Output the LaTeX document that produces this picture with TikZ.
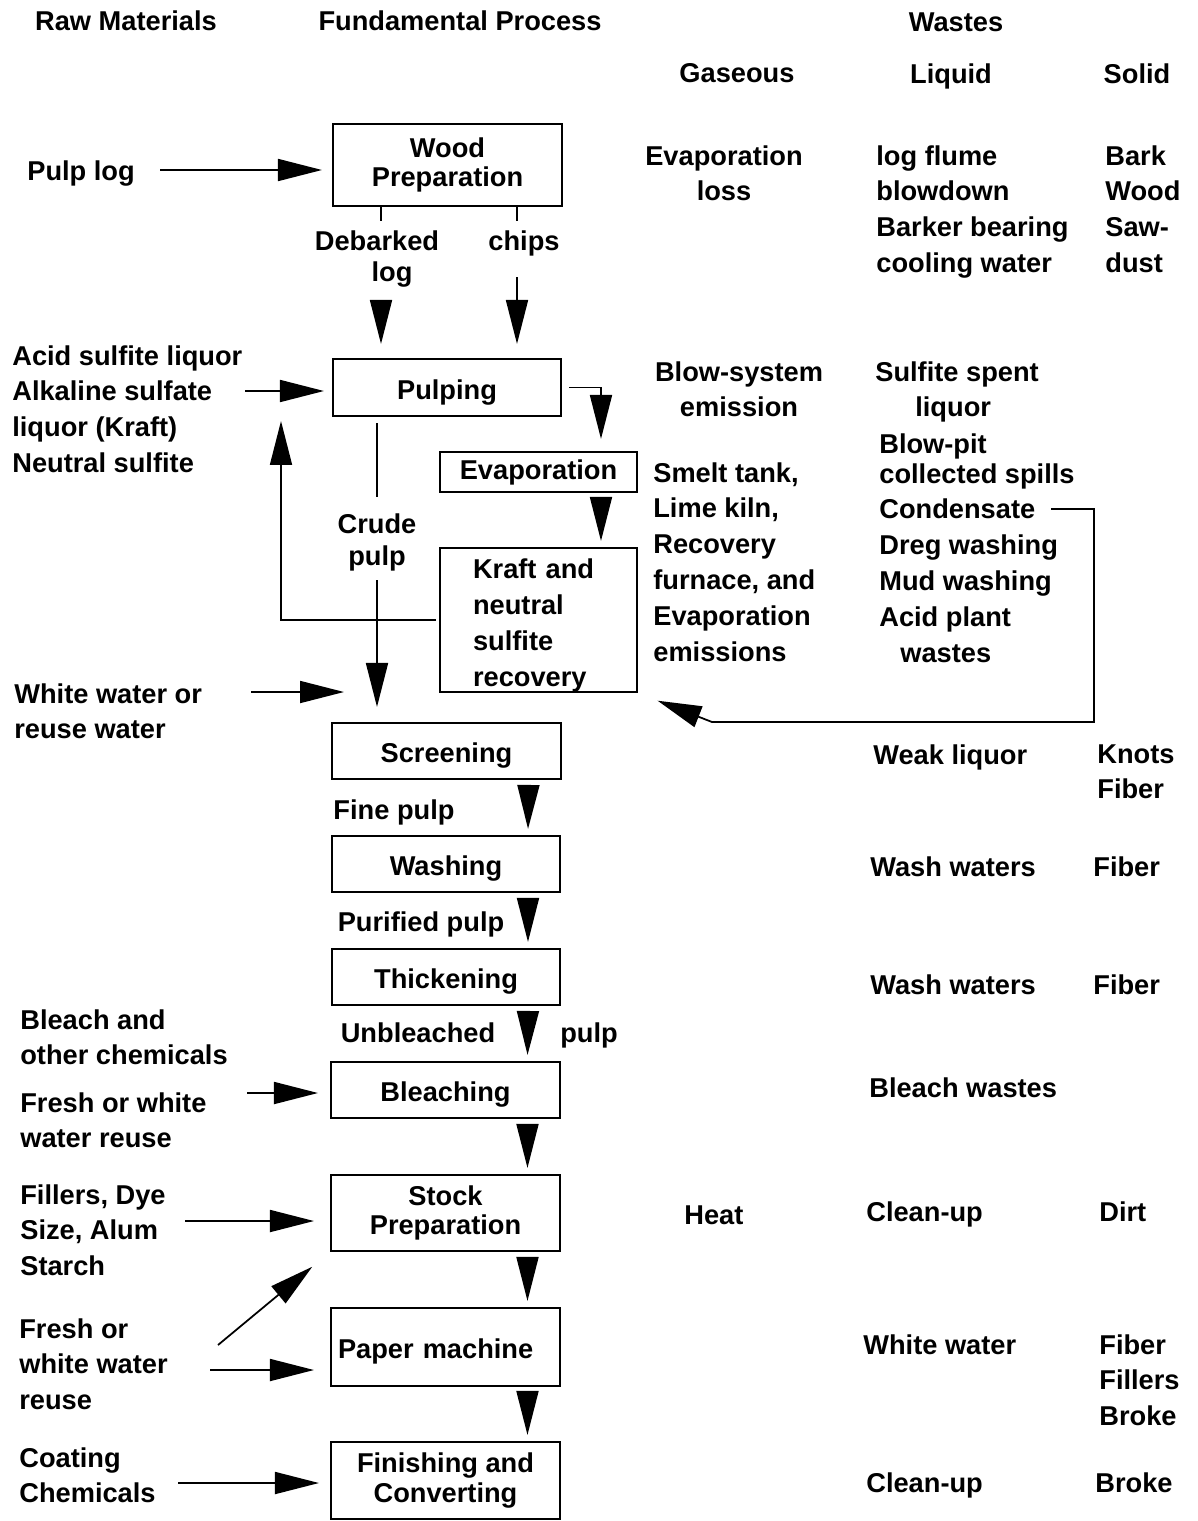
\documentclass[tikz,border=0pt]{standalone}
\usepackage{fontspec}
\setmainfont{Liberation Sans}
\usetikzlibrary{arrows.meta}

\begin{document}
\begin{tikzpicture}[x=0.02cm, y=-0.02cm,
  txt/.style={font=\fontsize{15.5}{20.4}\selectfont\bfseries, inner sep=0pt, align=left, anchor=north west},
  ctxt/.style={font=\fontsize{15.5}{20.4}\selectfont\bfseries, inner sep=0pt, align=center, anchor=north},
  procbox/.style={draw, line width=1.2pt, font=\fontsize{15.5}{17}\selectfont\bfseries, align=center, inner sep=0pt},
  onebox/.style={procbox, text height=13.6pt, text depth=0pt},
  line/.style={line width=1pt},
  flow/.style={line width=1pt, -{Triangle[length=0.88cm, width=0.44cm]}}]
\useasboundingbox (0,0) rectangle (1197,1521);

\node[ctxt] (rawhdr) at (126,10) {Raw Materials};
\node[ctxt] (prochdr) at (460,10) {Fundamental Process};
\node[ctxt] (wastehdr) at (956,12) {Wastes};
\node[ctxt] (gashdr) at (737,63) {Gaseous};
\node[ctxt] (liqhdr) at (951,63) {Liquid};
\node[ctxt] (solhdr) at (1137,63) {Solid};

\node[procbox, minimum width=4.58cm, minimum height=1.64cm] (wood) at (447.5,165) {Wood\\Preparation};
\node[onebox, minimum width=4.56cm, minimum height=1.14cm] (pulping) at (447,387.5) {Pulping};
\node[procbox, minimum width=3.94cm, minimum height=0.8cm] (evap) at (538.5,472) {Evaporation};
\node[procbox, minimum width=3.94cm, minimum height=2.88cm, font=\fontsize{15.5}{20.5}\selectfont\bfseries, align=left, text width=2.62cm, text height=16.9pt] (kraft) at (538.5,620) {Kraft and\\neutral\\sulfite\\recovery};
\node[onebox, minimum width=4.58cm, minimum height=1.12cm] (screen) at (446.5,751) {Screening};
\node[onebox, minimum width=4.56cm, minimum height=1.12cm] (wash) at (446,864) {Washing};
\node[onebox, minimum width=4.56cm, minimum height=1.12cm] (thick) at (446,977) {Thickening};
\node[onebox, minimum width=4.58cm, minimum height=1.12cm] (bleach) at (445.5,1090) {Bleaching};
\node[procbox, minimum width=4.58cm, minimum height=1.52cm] (stock) at (445.5,1213) {Stock\\Preparation};
\node[onebox, align=left, text width=4.3cm, minimum width=4.58cm, minimum height=1.56cm] (paper) at (445.5,1347) {Paper machine};
\node[procbox, minimum width=4.58cm, minimum height=1.54cm] (finish) at (445.5,1480.5) {Finishing and\\Converting};

\node[txt] (pulplog) at (27,160) {Pulp log};
\node[txt] (acid) at (12,345) {Acid sulfite liquor\\Alkaline sulfate\\liquor (Kraft)\\Neutral sulfite};
\node[txt] (whitew) at (14,683) {White water or\\reuse water};
\node[txt] (bleachchem) at (20,1009) {Bleach and\\other chemicals};
\node[txt] (freshw) at (20,1092) {Fresh or white\\water reuse};
\node[txt] (fillers) at (20,1184) {Fillers, Dye\\Size, Alum\\Starch};
\node[txt] (freshpw) at (19,1318) {Fresh or\\white water\\reuse};
\node[txt] (coating) at (19,1447) {Coating\\Chemicals};

\node[ctxt, font=\fontsize{15.5}{17.6}\selectfont\bfseries] (debark) at (377,230) {Debarked\\\hspace*{0.6cm}log};
\node[ctxt] (chips) at (524,230) {chips};
\node[ctxt, font=\fontsize{15.5}{18.2}\selectfont\bfseries] (crude) at (377,513) {Crude\\pulp};
\node[ctxt] (finepulp) at (394,799) {Fine pulp};
\node[ctxt] (purified) at (421,911) {Purified pulp};
\node[ctxt] (unbleached) at (418,1022) {Unbleached};
\node[ctxt] (pulpword) at (589,1022) {pulp};

\node[ctxt] (evaploss) at (724,145) {Evaporation\\loss};
\node[txt] (flume) at (876,145) {log flume\\blowdown\\Barker bearing\\cooling water};
\node[txt] (bark) at (1105,145) {Bark\\Wood\\Saw-\\dust};
\node[ctxt] (blowsys) at (739,361) {Blow-system\\emission};
\node[txt] (sulfite) at (875,361) {Sulfite spent\\\hspace*{0.8cm}liquor};
\node[txt] (blowpit) at (879,433) {Blow-pit};
\node[txt] (spills) at (879,463) {collected spills\\Condensate\\Dreg washing\\Mud washing\\Acid plant\\\hspace*{0.42cm}wastes};
\node[txt] (smelt) at (653,462) {Smelt tank,\\Lime kiln,\\Recovery\\furnace, and\\Evaporation\\emissions};
\node[txt] (weak) at (873,744) {Weak liquor};
\node[txt] (knots) at (1097,744) {Knots\\Fiber};
\node[txt] (washw) at (870,856) {Wash waters};
\node[txt] (fiberw) at (1093,856) {Fiber};
\node[txt] (thickw) at (870,974) {Wash waters};
\node[txt] (fibert) at (1093,974) {Fiber};
\node[txt] (bleachw) at (869,1077) {Bleach wastes};
\node[txt] (heat) at (684,1205) {Heat};
\node[txt] (cleanup) at (866,1201) {Clean-up};
\node[txt] (dirt) at (1099,1201) {Dirt};
\node[txt] (whitepw) at (863,1334) {White water};
\node[txt] (fiberp) at (1099,1334) {Fiber\\Fillers\\Broke};
\node[txt] (cleanupf) at (866,1472) {Clean-up};
\node[txt] (broke) at (1095,1472) {Broke};

\coordinate (pl) at (160,170);
\coordinate (dl) at (381,300);
\coordinate (ch) at (517,277);
\coordinate (ac) at (245,391);
\coordinate (cp1) at (377,497);
\coordinate (cp2) at (377,580);
\coordinate (rl) at (281,421);
\coordinate (ww1) at (251,692);
\coordinate (ww2) at (344,692);
\coordinate (cd1) at (1051,509);
\coordinate (cd2) at (1094,722);
\coordinate (cd3) at (712,722);
\coordinate (fw) at (247,1093);
\coordinate (fd) at (185,1221);
\coordinate (dg) at (218,1345);
\coordinate (pw) at (210,1370);
\coordinate (cc) at (178,1483);

\draw[flow, shorten >=0.2cm] (pl) -- (pl -| wood.west);
\draw[line] (wood.south -| dl) -- ++(0,14);
\draw[line] (wood.south -| ch) -- ++(0,14);
\draw[flow, shorten >=0.28cm] (dl) -- (dl |- pulping.north);
\draw[flow, shorten >=0.28cm] (ch) -- (ch |- pulping.north);
\draw[flow, shorten >=0.16cm] (ac) -- (ac -| pulping.west);
\draw[flow, shorten <=0.14cm, shorten >=0.24cm] (pulping.east) -| ([xshift=1.25cm]evap.north);
\draw[flow, shorten <=0.12cm, shorten >=0.12cm] ([xshift=1.25cm]evap.south) -- ([xshift=1.25cm]kraft.north);
\draw[line, shorten <=0.12cm] (pulping.south -| cp1) -- (cp1);
\draw[flow, shorten >=0.3cm] (cp2) -- (cp2 |- screen.north);
\draw[flow, shorten <=0.06cm] (kraft.west) -| (rl);
\draw[flow] (ww1) -- (ww2);
\draw[flow, shorten >=0.42cm] (cd1) -| (cd2) -- (cd3) -- (kraft.south east);

\draw[flow, shorten <=0.14cm, shorten >=0.12cm] ([xshift=1.64cm]screen.south) -- ([xshift=1.64cm]wash.north);
\draw[flow, shorten <=0.14cm, shorten >=0.12cm] ([xshift=1.64cm]wash.south) -- ([xshift=1.64cm]thick.north);
\draw[flow, shorten <=0.14cm, shorten >=0.12cm] ([xshift=1.64cm]thick.south) -- ([xshift=1.64cm]bleach.north);
\draw[flow, shorten <=0.14cm, shorten >=0.12cm] ([xshift=1.64cm]bleach.south) -- ([xshift=1.64cm]stock.north);
\draw[flow, shorten <=0.14cm, shorten >=0.12cm] ([xshift=1.64cm]stock.south) -- ([xshift=1.64cm]paper.north);
\draw[flow, shorten <=0.14cm, shorten >=0.12cm] ([xshift=1.64cm]paper.south) -- ([xshift=1.64cm]finish.north);

\draw[flow, shorten >=0.24cm] (fw) -- (fw -| bleach.west);
\draw[flow, shorten >=0.32cm] (fd) -- (fd -| stock.west);
\draw[flow, shorten >=0.46cm] (dg) -- (stock.south west);
\draw[flow, shorten >=0.32cm] (pw) -- (pw -| paper.west);
\draw[flow, shorten >=0.22cm] (cc) -- (cc -| finish.west);

\end{tikzpicture}
\end{document}
